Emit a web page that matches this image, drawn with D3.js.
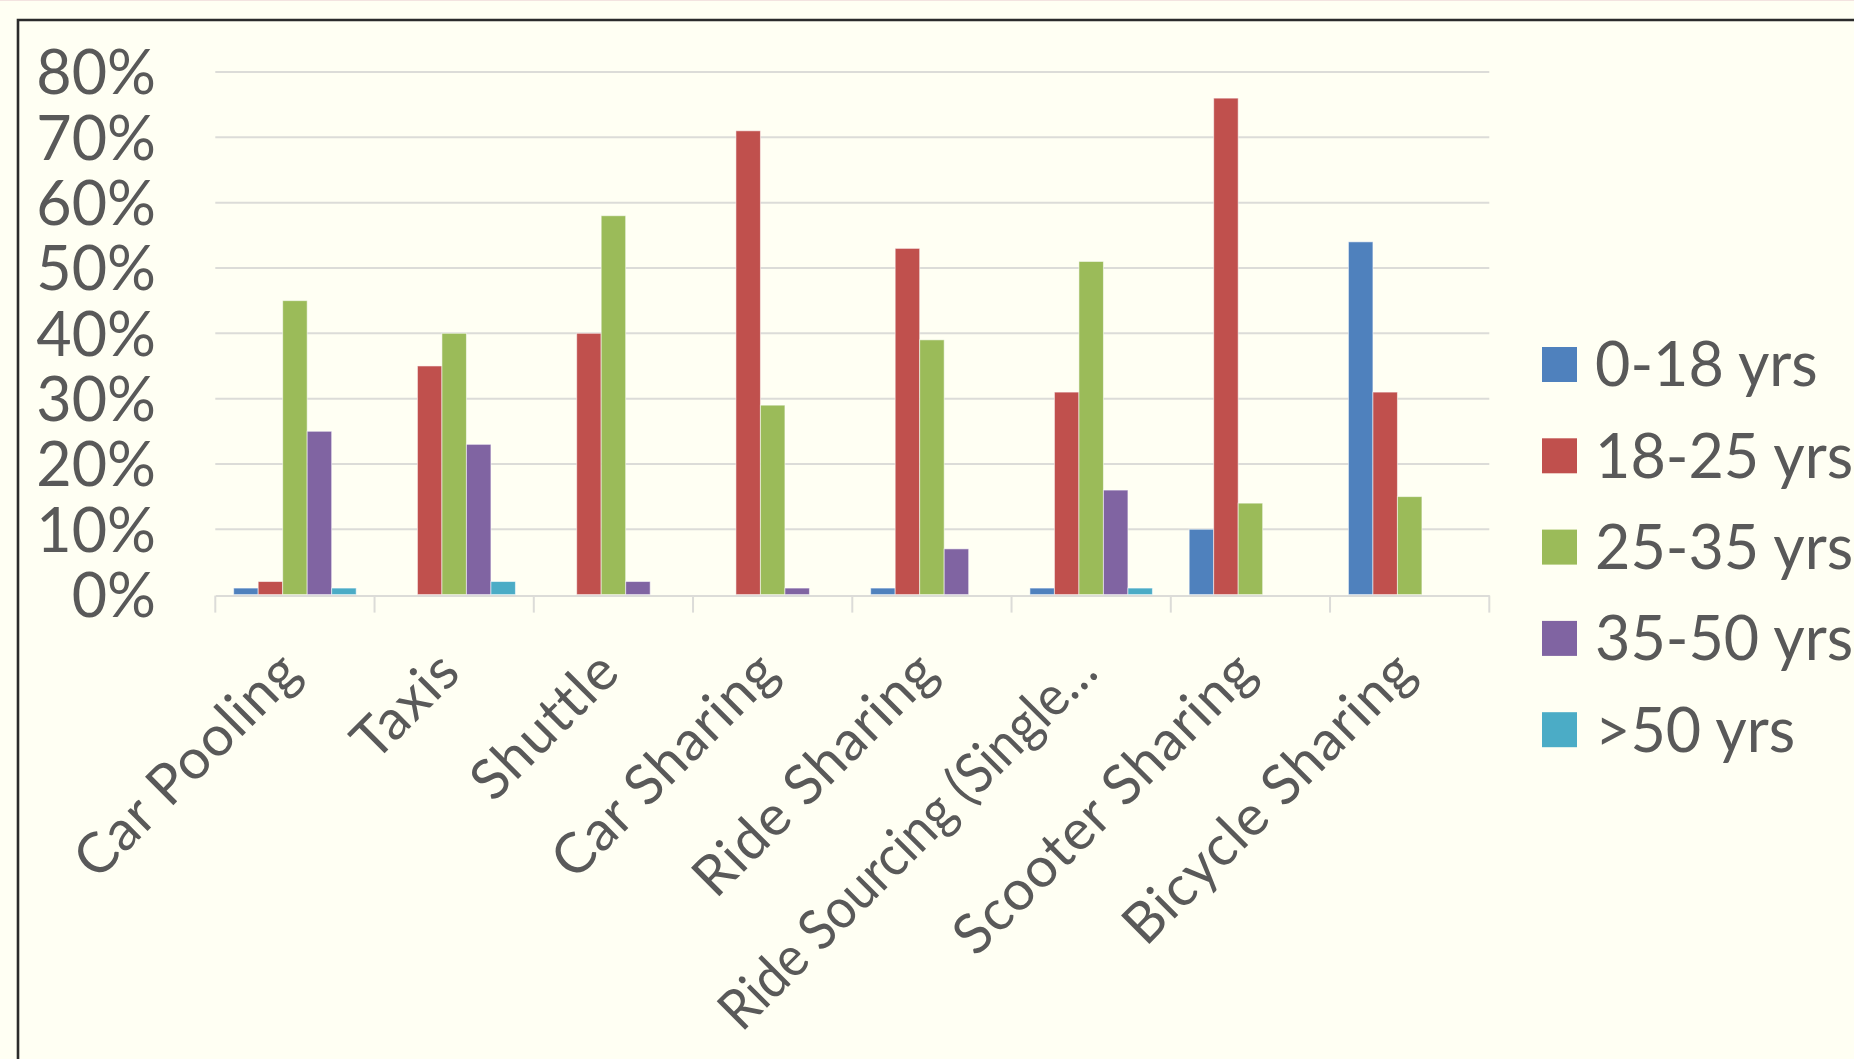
<!DOCTYPE html>
<html>
<head>
<meta charset="utf-8">
<script src="https://cdn.jsdelivr.net/npm/d3@7/dist/d3.min.js"></script>
<style>
  html, body { margin: 0; padding: 0; background: #fffff3; overflow: hidden; }
  svg { display: block; }
  text { font-family: "Century Gothic", Lato, "Open Sans", sans-serif; fill: #595959; }
</style>
</head>
<body>
<svg id="chart" width="1854" height="1059"></svg>
<script>
// Shared-mobility usage by age group
const categories = ["Car Pooling", "Taxis", "Shuttle", "Car Sharing", "Ride Sharing",
                    "Ride Sourcing (Single\u2026", "Scooter Sharing", "Bicycle Sharing"];
const seriesNames = ["0-18 yrs", "18-25 yrs", "25-35 yrs", "35-50 yrs", ">50 yrs"];
const seriesColors = ["#4f81bd", "#c0504d", "#9bbb59", "#8064a2", "#4bacc6"];
// percentage of respondents, one array per age group (same order as categories)
const age0to18  = [1, 0, 0, 0, 1, 1, 10, 54];
const age18to25 = [2, 35, 40, 71, 53, 31, 76, 31];
const age25to35 = [45, 40, 58, 29, 39, 51, 14, 15];
const age35to50 = [25, 23, 2, 1, 7, 16, 0, 0];
const age50plus = [1, 2, 0, 0, 0, 1, 0, 0];
const yTicks = [0, 10, 20, 30, 40, 50, 60, 70, 80];

const seriesValues = [age0to18, age18to25, age25to35, age35to50, age50plus];

const svg = d3.select("#chart");
const W = 1854, H = 1059;

svg.append("rect").attr("width", W).attr("height", H).attr("fill", "#fffff3");
// faint slide edge and chart frame
svg.append("line").attr("x1", 0).attr("x2", W).attr("y1", 0.5).attr("y2", 0.5)
  .attr("stroke", "#f3e3e0").attr("stroke-width", 1);
svg.append("path")
  .attr("d", `M18,${H + 5} L18,20 L${W + 5},20`)
  .attr("fill", "none").attr("stroke", "#2b2b2b").attr("stroke-width", 2.6);

const plot = { left: 215.3, right: 1489.3, top: 72, bottom: 594.6 };

const x = d3.scaleBand().domain(categories).range([plot.left, plot.right]).padding(0);
const bw = x.bandwidth();
const xs = d3.scaleBand().domain(seriesNames)
  .range([bw * 0.75 / 6.5, bw * 5.75 / 6.5]).padding(0);
const y = d3.scaleLinear().domain([0, 80]).range([plot.bottom, plot.top]);
const color = d3.scaleOrdinal().domain(seriesNames).range(seriesColors);

// horizontal gridlines
svg.append("g").selectAll("line").data(yTicks.filter(t => t > 0)).join("line")
  .attr("x1", plot.left).attr("x2", plot.right)
  .attr("y1", d => y(d)).attr("y2", d => y(d))
  .attr("stroke", "#dcdcd8").attr("stroke-width", 2);

// y axis labels
const yAxis = d3.axisLeft(y).tickValues(yTicks).tickFormat(d => d + "%").tickSize(0).tickPadding(0);
const gy = svg.append("g").attr("transform", "translate(156,0)").call(yAxis);
gy.select(".domain").remove();
gy.selectAll("text")
  .attr("fill", "#595959").attr("font-size", 61)
  .attr("font-family", "\"Century Gothic\", Lato, sans-serif")
  .attr("dy", "0.36em");

// bars
const groups = svg.append("g").selectAll("g").data(seriesNames).join("g")
  .attr("fill", d => color(d));
groups.selectAll("rect")
  .data((s, i) => categories.map((c, j) => ({ s, c, v: seriesValues[i][j] })))
  .join("rect")
  .attr("x", d => x(d.c) + xs(d.s))
  .attr("width", xs.bandwidth())
  .attr("y", d => y(d.v))
  .attr("height", d => y(0) - y(d.v))
  .attr("stroke", "rgba(255,255,255,0.55)").attr("stroke-width", d => d.v > 0 ? 1 : 0);

// category axis line and tick marks
const xAxis = d3.axisBottom(x).tickSize(0).tickFormat("");
const gx = svg.append("g").attr("transform", `translate(0,${plot.bottom + 1})`).call(xAxis);
gx.select(".domain").attr("stroke", "#dcdcd8").attr("stroke-width", 2);
gx.selectAll(".tick").remove();
const boundaries = categories.map(c => x(c)).concat([plot.right]);
svg.append("g").selectAll("line").data(boundaries).join("line")
  .attr("x1", d => d).attr("x2", d => d)
  .attr("y1", plot.bottom + 1).attr("y2", plot.bottom + 18)
  .attr("stroke", "#dcdcd8").attr("stroke-width", 2);

// rotated category labels; long ones are compressed so they stay inside the frame
const labelY = plot.bottom + 80;
const maxLabelLen = (H - 26 - labelY) * Math.SQRT2;
svg.append("g").selectAll("text").data(categories).join("text")
  .attr("transform", d => `translate(${x(d) + bw / 2 + 9},${labelY}) rotate(-45)`)
  .attr("text-anchor", "end")
  .attr("font-size", 56)
  .attr("letter-spacing", 1)
  .text(d => d)
  .each(function () {
    const len = this.getComputedTextLength();
    if (len > maxLabelLen) {
      d3.select(this).attr("letter-spacing", 0)
        .attr("textLength", maxLabelLen).attr("lengthAdjust", "spacingAndGlyphs");
    }
  });

// legend
const legend = svg.append("g").selectAll("g").data(seriesNames).join("g")
  .attr("transform", (d, i) => `translate(1542,${347 + i * 91.3})`);
legend.append("rect").attr("width", 35).attr("height", 35).attr("fill", d => color(d));
legend.append("text").attr("x", 53).attr("y", 17.5).attr("dy", "0.36em")
  .attr("font-size", 61).text(d => d);
</script>
</body>
</html>
